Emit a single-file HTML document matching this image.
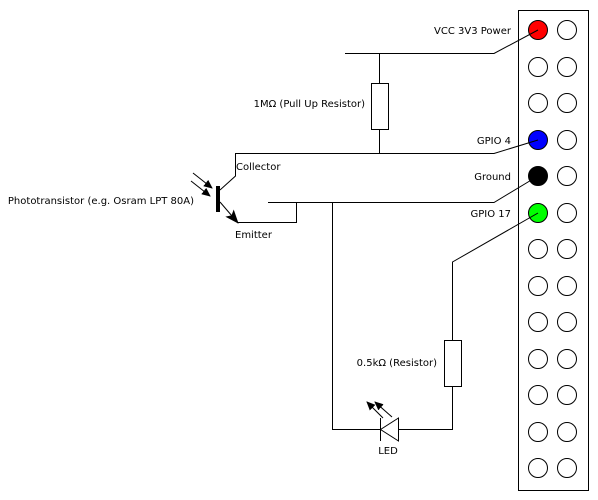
<!DOCTYPE html>
<html><head><style>body{margin:0;background:#fff}svg{display:block}text{font-family:"DejaVu Sans","Liberation Sans",sans-serif;font-size:10px;fill:#000}</style></head><body>
<svg width="598" height="500" viewBox="0 0 598 500" xmlns="http://www.w3.org/2000/svg">
<defs><marker id="a" markerWidth="9" markerHeight="8" refX="8" refY="4" orient="auto" markerUnits="userSpaceOnUse"><path d="M0,0 L9,4 L0,8 z" fill="#000"/></marker>
<marker id="b" markerWidth="14" markerHeight="11" refX="13" refY="5.5" orient="auto" markerUnits="userSpaceOnUse"><path d="M0,0 L14,5.5 L0,11 L3,5.5 z" fill="#000"/></marker></defs>
<g stroke="#000" stroke-width="1" fill="none">
<rect x="518.5" y="10.5" width="70" height="480"/>
<circle cx="538" cy="30" r="9.5" fill="#f00"/><circle cx="567" cy="30" r="9.5"/>
<circle cx="538" cy="67" r="9.5"/><circle cx="567" cy="67" r="9.5"/>
<circle cx="538" cy="103" r="9.5"/><circle cx="567" cy="103" r="9.5"/>
<circle cx="538" cy="140" r="9.5" fill="#00f"/><circle cx="567" cy="140" r="9.5"/>
<circle cx="538" cy="176" r="9.5" fill="#000"/><circle cx="567" cy="176" r="9.5"/>
<circle cx="538" cy="213" r="9.5" fill="#0f0"/><circle cx="567" cy="213" r="9.5"/>
<circle cx="538" cy="249" r="9.5"/><circle cx="567" cy="249" r="9.5"/>
<circle cx="538" cy="286" r="9.5"/><circle cx="567" cy="286" r="9.5"/>
<circle cx="538" cy="322" r="9.5"/><circle cx="567" cy="322" r="9.5"/>
<circle cx="538" cy="359" r="9.5"/><circle cx="567" cy="359" r="9.5"/>
<circle cx="538" cy="395" r="9.5"/><circle cx="567" cy="395" r="9.5"/>
<circle cx="538" cy="432" r="9.5"/><circle cx="567" cy="432" r="9.5"/>
<circle cx="538" cy="468" r="9.5"/><circle cx="567" cy="468" r="9.5"/>
<polyline points="538,30 494,53.5 345,53.5"/>
<line x1="379.5" y1="53.5" x2="379.5" y2="83.5"/>
<rect x="371.5" y="83.5" width="17" height="46"/>
<line x1="379.5" y1="129.5" x2="379.5" y2="153.5"/>
<polyline points="538,140 494,153.5 235.5,153.5 235.5,176 220,190"/>
<polyline points="538,176 494,202.5 268,202.5"/>
<polyline points="296.5,202.5 296.5,222.5 237,222.5"/>
<line x1="220" y1="202" x2="238" y2="223" marker-end="url(#b)"/>
<polyline points="332.5,202.5 332.5,429.5 380,429.5"/>
<polyline points="538,213 452.5,262 452.5,340"/>
<rect x="444.5" y="340.5" width="17" height="46"/>
<polyline points="452.5,386.5 452.5,429.5 398,429.5"/>
<path d="M398.5,418 L398.5,441 L380.5,429.5 z"/>
<line x1="380.5" y1="418" x2="380.5" y2="441"/>
<line x1="193" y1="173" x2="212" y2="188" marker-end="url(#a)"/>
<line x1="191" y1="181" x2="210" y2="196" marker-end="url(#a)"/>
<line x1="383" y1="418" x2="367" y2="402" marker-end="url(#a)"/>
<line x1="392" y1="417" x2="375" y2="402" marker-end="url(#a)"/>
</g>
<rect x="216" y="186" width="4" height="26" fill="#000"/>
<text x="511" y="34" text-anchor="end">VCC 3V3 Power</text>
<text x="511" y="144" text-anchor="end">GPIO 4</text>
<text x="511" y="180" text-anchor="end">Ground</text>
<text x="511" y="217" text-anchor="end">GPIO 17</text>
<text x="365" y="107" text-anchor="end">1MΩ (Pull Up Resistor)</text>
<text x="437" y="366" text-anchor="end">0.5kΩ (Resistor)</text>
<text x="236" y="170">Collector</text>
<text x="235" y="238">Emitter</text>
<text x="194" y="204" text-anchor="end">Phototransistor (e.g. Osram LPT 80A)</text>
<text x="388" y="454" text-anchor="middle">LED</text>
</svg>
</body></html>
